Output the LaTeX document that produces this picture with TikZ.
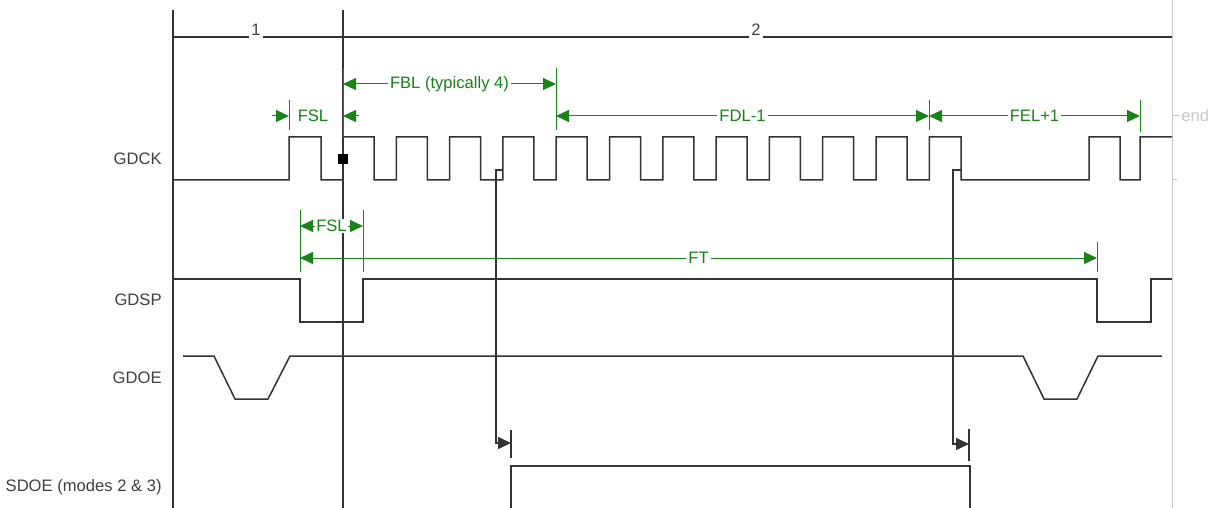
\documentclass[tikz,border=0pt]{standalone}
\usepackage{fontspec}
\setmainfont{Liberation Sans}
\usetikzlibrary{calc,positioning,arrows.meta}
\definecolor{dimgreen}{RGB}{25,130,25}
\definecolor{edgegray}{RGB}{200,200,200}

\begin{document}
\begin{tikzpicture}[x=0.5pt,y=-0.5pt,
  sig/.style={line width=0.75pt,black!80},
  tip/.style={-{Triangle[length=6.5pt,width=6pt]}},
  dim/.style={dimgreen,line width=0.5pt},
  dimboth/.style={dim,{Triangle[length=6.5pt,width=6pt]}-{Triangle[length=6.5pt,width=6pt]}},
  lbl/.style={font=\fontsize{8.3}{10}\selectfont,text=black!75,anchor=east,inner sep=0pt},
  dimtxt/.style={font=\fontsize{8.3}{10}\selectfont,text=dimgreen,fill=white,inner sep=1pt}]
  \fill[white] (0,0) rectangle (1216,508);
  \useasboundingbox (0,0) rectangle (1216,508);

  % frame and phases
  \draw[sig] (173,10) -- (173,508);
  \draw[sig] (343,10) -- (343,508);
  \draw[edgegray,line width=0.5pt] (1172,0) -- (1172,508);
  \draw[sig] (173,37) -- (1172,37);
  \node[font=\fontsize{8.3}{10}\selectfont,text=black!75,fill=white,inner sep=1pt,anchor=south] (ph1) at (256,38) {1};
  \node[font=\fontsize{8.3}{10}\selectfont,text=black!75,fill=white,inner sep=1pt,anchor=south] (ph2) at (756,38) {2};

  % signal names
  \node[lbl] (gdck) at (162,159) {GDCK};
  \node[lbl] (gdsp) at (162,300) {GDSP};
  \node[lbl] (gdoe) at (162,378) {GDOE};
  \node[lbl] (sdoe) at (162,487) {SDOE (modes 2 \& 3)};

  % GDCK
  \draw[sig] (173,180) -- (289,180) -- (289,137) -- (321,137) -- (321,180) -- (343,180)
    \foreach \k in {0,...,10} { -- ({343+53.3*\k},137) -- ({374+53.3*\k},137)
      -- ({374+53.3*\k},180) -- ({396.3+53.3*\k},180) }
    -- (929.3,137) -- (961,137) -- (961,180) -- (1089,180) -- (1089,137) -- (1120,137)
    -- (1120,180) -- (1140,180) -- (1140,137) -- (1172,137);
  \node[fill=black,minimum size=5pt,inner sep=0pt] (mark) at (343,159) {};

  % GDSP
  \draw[sig] (173,279) -- (300,279) -- (300,322) -- (363,322) -- (363,279) -- (1097,279)
    -- (1097,322) -- (1151,322) -- (1151,279) -- (1172,279);

  % GDOE
  \draw[sig] (183,356) -- (214,356) -- (235,399) -- (268,399) -- (290,356) -- (1023,356)
    -- (1044,399) -- (1077,399) -- (1098,356) -- (1162,356);

  % SDOE
  \draw[sig] (511,508) -- (511,466) -- (970,466) -- (970,508);
  \draw[sig] (511,430) -- (511,458);
  \draw[sig] (969,429) -- (969,461);

  % edge to SDOE
  \coordinate (e1) at (502,170);
  \coordinate (s1) at (511,443);
  \coordinate (e2) at (961,170);
  \coordinate (s2) at (969,444);
  \draw[sig,tip] (e1) -- ++(-6,0) |- (s1);
  \draw[sig,tip] (e2) -- ++(-8,0) |- (s2);

  % timing marks
  \draw[dim] (289,100) -- (289,130);
  \draw[dim] (343,68) -- (343,137);
  \draw[dim] (556,68) -- (556,130);
  \draw[dim] (929,100) -- (929,130);
  \draw[dim] (1140,100) -- (1140,132);
  \draw[dim] (300,210) -- (300,272);
  \draw[dim] (363,210) -- (363,272);
  \draw[dim] (1097,242) -- (1097,272);

  \draw[dim,tip] (272,116) -- (289,116);
  \node[dimtxt,fill=none] (fsl1) at (313,116) {FSL};
  \draw[dim,tip] (359,116) -- (343,116);
  \draw[dimboth] (343,84) -- (556,84) node[midway,dimtxt] (fbl) {FBL (typically 4)};
  \draw[dimboth] (556,116) -- (929,116) node[midway,dimtxt] (fdl) {FDL-1};
  \draw[dimboth] (929,116) -- (1140,116) node[midway,dimtxt] (fel) {FEL+1};
  \draw[dimboth] (300,226) -- (363,226) node[midway,dimtxt,inner sep=0.5pt] (fsl2) {FSL};
  \draw[dimboth] (300,258) -- (1097,258) node[midway,dimtxt] (ft) {FT};

  % end marker
  \draw[edgegray,line width=0.5pt] (1173,116) -- (1180,116);
  \node[font=\fontsize{8.3}{10}\selectfont,text=edgegray,anchor=west,inner sep=0pt] (endlbl) at (1181,116) {end};
  \draw[edgegray,line width=0.5pt] (1172,180) -- (1177,180);
\end{tikzpicture}
\end{document}
